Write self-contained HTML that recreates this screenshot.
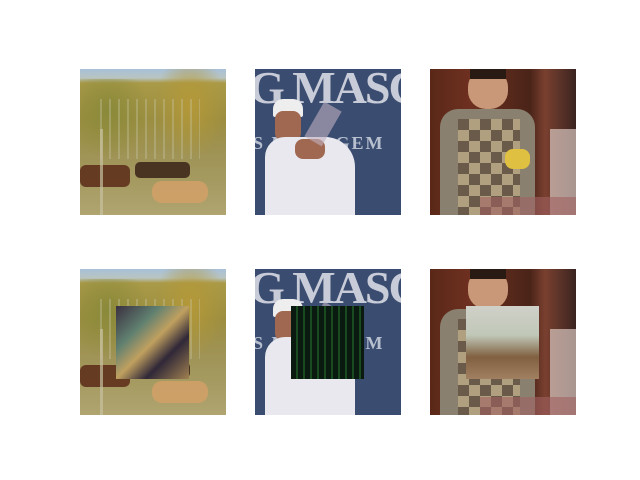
<!DOCTYPE html>
<html><head><meta charset="utf-8"><style>
body{margin:0;background:#fff;}
#fig{position:relative;width:640px;height:480px;background:#fff;overflow:hidden;font-family:"Liberation Sans",sans-serif;}
.ax{position:absolute;width:146px;height:146px;overflow:hidden;}
.ax div{position:absolute;}
</style></head><body>
<div id="fig">
  <div class="ax" id="a1" style="left:80px;top:69px">
    <div style="left:0;top:0;width:146px;height:146px;background:linear-gradient(180deg,#a8c0d8 0,#b8c4c0 9px,#a99a48 14px,#9c8e40 50px,#a09458 90px,#a49a60 110px,#b0a470 146px)"></div>
    <div style="left:0;top:10px;width:70px;height:80px;background:radial-gradient(ellipse at 40% 40%,#8a8a3a,rgba(140,130,60,0) 70%)"></div>
    <div style="left:75px;top:0;width:71px;height:90px;background:radial-gradient(ellipse at 50% 40%,#b49838,rgba(170,150,60,0) 70%)"></div>
    <div style="left:20px;top:30px;width:100px;height:60px;background:repeating-linear-gradient(90deg,rgba(200,200,170,.35) 0 2px,rgba(0,0,0,0) 2px 9px)"></div>
    <div style="left:0;top:96px;width:50px;height:22px;background:#5a2a18;border-radius:6px;opacity:.85"></div>
    <div style="left:55px;top:93px;width:55px;height:16px;background:#3a2218;border-radius:5px;opacity:.85"></div>
    <div style="left:72px;top:112px;width:56px;height:22px;background:#d0a068;border-radius:10px;opacity:.9"></div>
    <div style="left:20px;top:60px;width:3px;height:86px;background:#c8c0a0;opacity:.7"></div>
  </div>
  <div class="ax" id="a2" style="left:255px;top:69px">
    <div style="left:0;top:0;width:146px;height:146px;background:#3a4c70"></div>
    <div style="left:-6px;top:-8px;width:170px;height:60px;color:#c8ccd8;font:bold 46px 'Liberation Serif',serif;white-space:nowrap;letter-spacing:-2px">G MASC</div>
    <div style="left:-2px;top:64px;width:160px;height:24px;color:#b8c0d0;font:bold 18px 'Liberation Serif',serif;white-space:nowrap;letter-spacing:2px">S MANAGEM</div>
    <div style="left:18px;top:30px;width:30px;height:18px;background:#eee;border-radius:10px 10px 2px 2px"></div>
    <div style="left:20px;top:42px;width:26px;height:30px;background:#a06850;border-radius:8px"></div>
    <div style="left:10px;top:68px;width:90px;height:80px;background:#e8e8ee;border-radius:20px 30px 0 0"></div>
    <div style="left:40px;top:70px;width:30px;height:20px;background:#a06850;border-radius:8px"></div>
    <div style="left:58px;top:35px;width:20px;height:40px;background:#c0b0c0;opacity:.6;transform:rotate(30deg)"></div>
  </div>
  <div class="ax" id="a3" style="left:430px;top:69px">
    <div style="left:0;top:0;width:146px;height:146px;background:linear-gradient(90deg,#5a2818 0,#6e3020 40px,#4a2418 100px,#7a4030 115px,#3a2420 146px)"></div>
    <div style="left:38px;top:0;width:40px;height:40px;background:#c89878;border-radius:18px"></div>
    <div style="left:40px;top:0;width:36px;height:10px;background:#2a1a14"></div>
    <div style="left:10px;top:40px;width:95px;height:106px;background:#8a8070;border-radius:18px 18px 0 0"></div>
    <div style="left:28px;top:50px;width:62px;height:96px;background:repeating-conic-gradient(#b0a080 0 25%,#6a5a4a 0 50%) 0 0/22px 22px;transform:none"></div>
    <div style="left:75px;top:80px;width:25px;height:20px;background:#e0c040;border-radius:8px"></div>
    <div style="left:120px;top:60px;width:26px;height:86px;background:#d8c8c0;opacity:.7"></div>
    <div style="left:50px;top:128px;width:96px;height:18px;background:#a06060;opacity:.6"></div>
  </div>
</div>
<script>
const fig=document.getElementById('fig');
const names=['image-cows-perturbed','image-tennis-perturbed','image-person-perturbed'];
const patches=['linear-gradient(135deg,#3a3040,#608070 30%,#c0a060 50%,#302838 70%,#a08050)','repeating-linear-gradient(90deg,#0a1a10 0 5px,#1a4a20 5px 7px),#102010','linear-gradient(180deg,#d0d0c8,#c0c8b8 40%,#806040 70%,#a08060)'];
['a1','a2','a3'].forEach((id,i)=>{
  const c=document.getElementById(id).cloneNode(true);
  c.id='b'+(i+1);
  c.style.top='269px';
  
  
  const p=document.createElement('div');
  
  
  p.style.cssText='left:36px;top:37px;width:73px;height:73px;background:'+patches[i];
  c.appendChild(p);
  fig.appendChild(c);
});
</script>
</body></html>
